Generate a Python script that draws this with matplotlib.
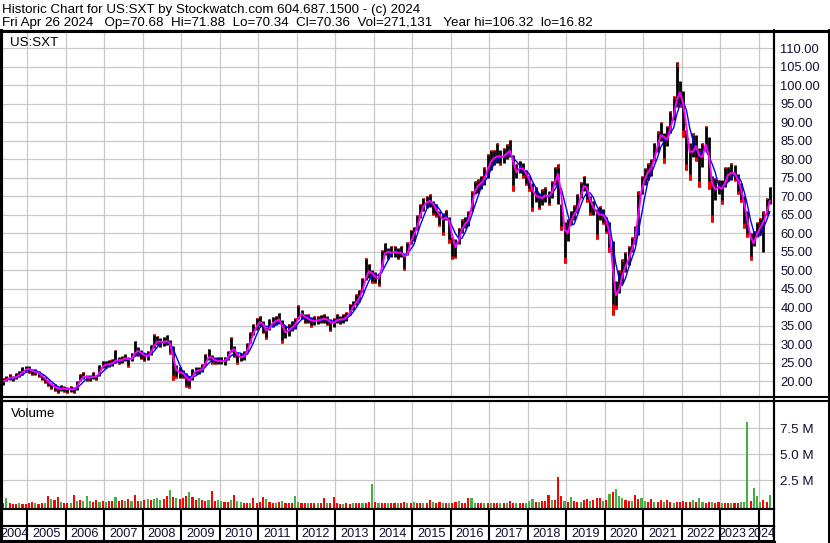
import numpy as np
import pandas as pd
import matplotlib
matplotlib.use("Agg")
import matplotlib.pyplot as plt
from matplotlib.lines import Line2D
from matplotlib.ticker import FormatStrFormatter, FuncFormatter

W, H = 830, 543
plt.rcParams['font.family'] = ['Liberation Sans', 'DejaVu Sans']

# monthly bars, May 2004 .. Apr 2024
closes = [
    20.0, 20.8, 21.2, 20.8, 21.5, 22.0, 22.8, 23.5,                      # 2004
    23.3, 22.5, 22.6, 22.0, 21.2, 20.5, 19.5, 18.8, 18.4, 17.8, 18.2, 18.0,  # 2005
    17.8, 18.0, 17.6, 19.5, 21.0, 21.5, 21.0, 21.0, 21.5, 21.0, 23.5, 24.5,  # 2006
    24.5, 24.8, 25.0, 26.0, 25.5, 26.0, 26.5, 25.5, 26.5, 28.5, 28.0, 27.5,  # 2007
    26.5, 27.0, 28.5, 30.5, 31.0, 30.5, 30.8, 31.0, 29.5, 23.5, 22.5, 22.5,  # 2008
    22.0, 20.5, 20.0, 22.5, 23.0, 23.0, 23.5, 26.0, 27.0, 26.0, 25.5, 25.5,  # 2009
    25.5, 25.5, 27.0, 29.5, 28.0, 26.5, 26.5, 27.0, 29.0, 32.0, 34.0, 35.5,  # 2010
    36.5, 34.5, 33.0, 35.5, 36.0, 36.5, 37.0, 33.0, 33.5, 34.0, 35.0, 35.5,  # 2011
    38.5, 38.0, 37.0, 37.0, 36.0, 36.5, 36.5, 36.8, 37.0, 36.5, 35.5, 36.0,  # 2012
    37.0, 36.5, 37.0, 37.5, 39.5, 40.5, 42.0, 43.0, 46.0, 49.5, 50.0, 48.5,  # 2013
    48.0, 47.5, 53.5, 55.5, 54.5, 55.0, 55.0, 54.5, 55.0, 52.5, 56.0, 59.0,  # 2014
    60.0, 63.0, 66.5, 68.0, 68.5, 69.0, 67.0, 66.0, 64.0, 63.5, 65.0, 62.0,  # 2015
    56.5, 56.0, 60.0, 62.0, 63.0, 64.0, 70.0, 72.5, 73.0, 74.0, 75.5, 78.5,  # 2016
    80.0, 80.5, 81.0, 80.5, 81.0, 82.0, 82.5, 76.0, 77.0, 78.0, 77.0, 75.5,  # 2017
    73.5, 70.0, 70.5, 69.0, 70.0, 70.5, 69.5, 72.0, 75.5, 76.5, 64.0, 58.0,  # 2018
    62.0, 64.5, 65.5, 67.5, 72.0, 73.5, 71.0, 67.0, 67.0, 64.5, 65.5, 64.5,  # 2019
    62.5, 58.0, 44.0, 42.5, 47.0, 50.0, 52.0, 54.0, 57.0, 60.0, 70.0, 73.0,  # 2020
    76.0, 77.0, 78.0, 82.0, 85.0, 88.0, 84.0, 86.5, 90.0, 93.0, 99.0, 97.0,  # 2021
    93.0, 84.0, 80.0, 84.0, 83.0, 79.0, 82.0, 86.0, 76.0, 71.0, 72.5, 72.5,  # 2022
    71.5, 75.5, 76.0, 76.5, 76.0, 73.0, 71.0, 65.0, 62.0, 56.0, 58.5, 61.0,  # 2023
    62.0, 64.0, 67.0, 70.36,                                              # 2024
]
lows = [
    19.0, 20.0, 20.4, 20.0, 20.7, 21.2, 21.8, 22.6,
    22.4, 21.8, 21.8, 21.2, 20.4, 19.6, 18.8, 18.0, 17.5, 16.8, 17.3, 17.2,
    17.0, 17.2, 16.9, 17.8, 20.0, 20.6, 20.2, 20.2, 20.6, 20.3, 21.5, 23.5,
    23.6, 23.9, 24.1, 25.0, 24.6, 25.1, 25.5, 24.0, 25.4, 27.2, 26.8, 26.0,
    25.4, 25.8, 27.2, 29.0, 29.8, 29.3, 29.5, 29.8, 27.5, 20.5, 20.8, 21.0,
    20.8, 18.5, 18.2, 20.5, 22.0, 22.0, 22.5, 24.5, 25.8, 24.8, 24.6, 24.6,
    24.6, 24.5, 25.8, 28.0, 26.5, 24.8, 25.4, 25.8, 27.8, 30.5, 32.6, 34.0,
    35.0, 33.0, 31.5, 34.0, 34.8, 35.2, 35.6, 30.4, 31.8, 32.4, 33.6, 34.2,
    36.8, 36.8, 35.8, 35.8, 34.8, 35.3, 35.4, 35.7, 35.9, 35.2, 33.5, 34.8,
    35.8, 35.4, 35.9, 36.3, 38.0, 39.2, 40.6, 41.5, 44.2, 47.5, 48.0, 46.5,
    46.5, 45.8, 51.0, 54.0, 53.0, 53.5, 53.5, 53.0, 53.5, 50.0, 54.0, 57.0,
    58.0, 61.0, 64.0, 66.0, 66.8, 67.0, 65.0, 64.5, 62.0, 59.5, 63.5, 57.5,
    53.0, 53.2, 57.0, 60.0, 61.5, 62.0, 66.0, 70.5, 71.0, 72.0, 73.0, 75.0,
    77.0, 78.5, 79.0, 78.5, 79.0, 80.0, 80.5, 71.5, 74.8, 76.2, 75.0, 73.0,
    71.5, 66.0, 68.5, 66.5, 67.5, 68.5, 67.5, 69.5, 73.0, 68.0, 61.0, 52.0,
    58.0, 62.5, 63.5, 65.5, 69.5, 71.5, 68.5, 65.0, 65.0, 58.5, 63.5, 62.5,
    60.0, 55.0, 38.0, 39.5, 44.0, 46.5, 49.5, 51.5, 55.0, 57.0, 59.5, 70.5,
    73.0, 74.5, 75.5, 79.5, 82.0, 85.0, 79.0, 83.5, 87.0, 90.5, 94.0, 94.0,
    86.0, 77.0, 74.5, 80.5, 79.5, 72.6, 78.0, 82.5, 72.0, 63.0, 69.0, 70.5,
    68.0, 72.5, 74.0, 74.5, 74.0, 70.5, 68.5, 61.5, 59.0, 52.7, 56.5, 59.0,
    59.5, 55.0, 65.0, 68.0,
]
highs = [
    21.0, 21.6, 22.0, 21.6, 22.3, 22.8, 23.8, 24.3,
    24.2, 23.4, 23.4, 22.8, 22.0, 21.3, 20.4, 19.6, 19.2, 18.6, 19.0, 18.8,
    18.6, 18.8, 18.4, 20.2, 21.9, 22.6, 21.8, 21.8, 22.6, 21.8, 24.5, 25.4,
    25.4, 25.7, 26.0, 28.5, 26.5, 27.0, 27.5, 26.6, 27.6, 31.0, 29.2, 28.6,
    27.6, 28.2, 29.8, 32.8, 32.2, 31.7, 32.0, 32.5, 31.2, 29.5, 24.5, 24.0,
    23.2, 22.2, 21.5, 23.4, 24.0, 24.0, 24.6, 27.5, 28.8, 27.2, 26.5, 26.5,
    26.5, 26.5, 28.2, 32.0, 29.6, 27.8, 27.6, 28.2, 30.4, 33.4, 35.4, 37.2,
    37.6, 36.2, 34.6, 36.8, 37.4, 37.8, 38.6, 36.5, 35.0, 35.6, 36.4, 37.0,
    40.6, 39.4, 38.3, 38.3, 37.3, 37.6, 37.6, 38.0, 38.2, 37.6, 36.8, 37.2,
    38.2, 37.6, 38.2, 38.8, 41.0, 41.8, 43.5, 44.8, 48.0, 53.3, 51.8, 50.0,
    49.6, 49.4, 55.5, 57.5, 56.0, 56.5, 56.6, 56.0, 56.6, 54.5, 57.6, 61.0,
    61.8, 64.8, 68.0, 69.6, 70.0, 70.5, 68.6, 68.0, 66.0, 65.5, 66.3, 64.5,
    59.0, 58.5, 61.5, 63.8, 64.5, 66.0, 71.5, 74.0, 74.6, 75.5, 78.0, 81.5,
    82.5, 82.5, 84.5, 82.5, 83.0, 84.0, 85.3, 81.0, 78.8, 79.5, 79.0, 77.0,
    75.5, 73.5, 72.5, 71.0, 72.0, 72.5, 71.5, 74.0, 78.0, 78.7, 68.0, 63.0,
    63.8, 66.0, 67.5, 70.5, 73.8, 75.5, 73.5, 70.0, 68.8, 66.5, 67.3, 66.5,
    64.5, 63.0, 58.0, 47.0, 50.0, 53.0, 55.0, 56.5, 59.0, 62.0, 71.5, 75.5,
    77.5, 79.0, 80.0, 84.5, 87.5, 90.0, 87.0, 89.0, 93.0, 97.0, 106.3, 101.0,
    98.5, 88.0, 84.5, 87.0, 86.5, 83.0, 84.5, 89.0, 86.0, 75.5, 75.0, 74.5,
    74.5, 78.0, 78.0, 79.0, 78.5, 76.0, 73.5, 70.0, 66.0, 60.0, 60.5, 63.0,
    64.0, 66.0, 69.5, 72.6,
]
# volume in millions of shares
volumes = [
    0.3, 0.8, 0.3, 0.2, 0.2, 0.3, 0.2, 0.25,
    0.3, 0.4, 0.3, 0.25, 0.3, 0.35, 1.0, 0.75, 0.6, 0.95, 0.4, 0.3,
    0.3, 0.35, 1.1, 0.5, 0.6, 0.5, 1.05, 0.5, 0.4, 0.6, 0.4, 0.5,
    0.4, 0.5, 0.5, 0.87, 0.5, 0.6, 0.5, 0.7, 0.5, 1.06, 0.5, 0.5,
    0.6, 0.7, 0.6, 0.7, 0.8, 0.6, 0.7, 1.0, 1.57, 0.9, 0.8, 0.7,
    0.8, 1.0, 1.4, 0.9, 0.6, 0.8, 0.6, 0.5, 0.6, 1.47, 0.5, 0.6,
    0.5, 0.4, 0.4, 0.6, 1.06, 0.5, 0.4, 0.35, 0.3, 0.3, 0.8, 0.35,
    0.4, 0.9, 0.7, 0.4, 0.35, 0.3, 0.4, 0.5, 0.35, 0.3, 0.35, 0.96,
    0.4, 0.35, 0.3, 0.3, 0.3, 0.3, 0.35, 0.3, 0.8, 0.3, 0.35, 0.9,
    0.3, 0.25, 0.25, 0.3, 0.25, 0.3, 0.3, 0.35, 0.3, 0.35, 0.4, 2.14,
    0.4, 0.35, 0.3, 0.3, 0.35, 0.3, 0.3, 0.3, 0.35, 0.4, 0.35, 0.35,
    0.42, 0.3, 0.3, 0.35, 0.3, 0.64, 0.4, 0.35, 0.42, 0.3, 0.3, 0.35,
    0.35, 0.4, 0.55, 0.35, 0.3, 0.83, 0.83, 0.35, 0.3, 0.3, 0.35, 0.3,
    0.3, 0.3, 0.3, 0.3, 0.35, 0.3, 0.55, 0.35, 0.3, 0.3, 0.3, 0.35,
    0.5, 0.75, 0.45, 0.4, 0.5, 0.5, 1.12, 0.6, 0.65, 2.85, 1.0, 0.55,
    0.45, 0.93, 0.5, 0.4, 0.45, 0.6, 0.67, 0.5, 0.6, 0.83, 0.83, 0.5,
    0.6, 1.2, 1.4, 1.65, 1.0, 0.8, 0.6, 0.5, 0.5, 1.1, 0.7, 0.85,
    0.5, 0.45, 0.74, 0.4, 0.4, 0.64, 0.4, 0.6, 0.4, 0.35, 0.4, 0.45,
    0.55, 0.45, 0.45, 0.58, 0.45, 0.83, 0.4, 0.35, 0.4, 0.4, 0.35, 0.42,
    0.3, 0.3, 0.3, 0.3, 0.35, 0.3, 0.4, 0.45, 8.05, 0.5, 1.73, 1.0,
    0.4, 0.64, 0.4, 1.1,
]
vol_colors = (
    "rgrrrgrr"
    "rrgrrgrgrrgr" "rgrgrgggrrgr" "grrgrrgrgrrg" "rgrgggrrgrgr" "rrgrrgrrgrrg"
    "grrgrggrrgrr" "rrgrrgrgrrrg" "grrgrrgrrgrr" "rrgrrgrrgrrg" "rgrrgrrgrrgr"
    "grrgrrgrrgrg" "rrgrrrggrrgr" "grrgrgrrgrrg" "ggrgrrrgrrrg" "rgrrgrrgrrrg"
    "rgrgggrrgrrg" "grrgrrgrrgrr" "rrrgrggrrgrr" "grrgrrgggrgg"
    "grrg"
)
year_labels = [str(y) for y in range(2004, 2025)]
header_1 = "Historic Chart for US:SXT by Stockwatch.com 604.687.1500 - (c) 2024"
header_2 = ("Fri Apr 26 2024   Op=70.68  Hi=71.88  Lo=70.34  Cl=70.36  "
            "Vol=271,131   Year hi=106.32  lo=16.82")

months = pd.date_range("2004-05-01", periods=len(closes), freq="MS")
df = pd.DataFrame({"close": closes, "low": lows, "high": highs, "vol": volumes,
                   "vcol": list(vol_colors)}, index=months)
df["t"] = df.index.year + (df.index.month - 0.5) / 12.0
df["ma_fast"] = df["close"].rolling(2, min_periods=1).mean()
df["ma_slow"] = df["close"].rolling(4, min_periods=1).mean()
down = df["close"] < df["close"].shift(1)
up = ~down

X0, X1 = 2004.343, 2024.387
GRID = "#c8c8c8"
LW_BORDER = 1.5
TXT = "#101030"


def box(left, top, right, bottom):
    return [left / W, 1 - bottom / H, (right - left) / W, (bottom - top) / H]


def style(ax):
    for s in ax.spines.values():
        s.set_color("black")
        s.set_linewidth(LW_BORDER)
    ax.set_xlim(X0, X1)


fig = plt.figure(figsize=(W / 100, H / 100), dpi=100)
fig.patch.set_facecolor("white")

# price panel
ax = fig.add_axes(box(2, 31, 773.5, 397))
style(ax)
ax.set_ylim(15.8, 114.6)
ax.set_xticks(range(2005, 2025))
ax.set_yticks(np.arange(20, 111, 5))
ax.yaxis.tick_right()
ax.yaxis.set_major_formatter(FormatStrFormatter("%.2f"))
ax.tick_params(axis="x", length=0, labelbottom=False)
ax.tick_params(axis="y", length=0, pad=5, labelsize=9.3, labelcolor=TXT)
ax.grid(True, color=GRID, lw=0.9)
ax.set_axisbelow(True)

ax.vlines(df["t"], df["low"], df["high"], color="black", lw=2.0, zorder=2)
tip = (df["high"] - df["low"]) * 0.15
ax.vlines(df["t"][down], df["low"][down], (df["low"] + tip)[down],
          color="#ff0000", lw=2.0, zorder=3)
ax.vlines(df["t"][up] + 0.02, (df["high"] - tip * 0.7)[up], df["high"][up],
          color="#ff0000", lw=1.2, zorder=3)
ax.plot(df["t"], df["ma_slow"], color="#0000ff", lw=1.0, zorder=4)
ax.plot(df["t"], df["ma_fast"], color="#ff00ff", lw=1.4, zorder=5)
ax.text(8 / 771.5, 1 - (46.5 - 31) / 366, "US:SXT", transform=ax.transAxes,
        fontsize=9.6, va="baseline", ha="left")

# volume panel
vax = fig.add_axes(box(2, 401, 773.5, 509))
style(vax)
vb = -0.24
vax.set_ylim(vb, 10.1)
vax.set_xticks(range(2005, 2025))
vax.set_yticks([2.5, 5.0, 7.5])
vax.yaxis.tick_right()
vax.yaxis.set_major_formatter(FuncFormatter(lambda v, p: f"{v:.1f} M"))
vax.tick_params(axis="x", length=0, labelbottom=False)
vax.tick_params(axis="y", length=0, pad=5, labelsize=9.6, labelcolor=TXT)
vax.grid(True, color=GRID, lw=0.9)
vax.set_axisbelow(True)
cmap = {"g": "#44b044", "r": "#ff0000"}
vax.bar(df["t"], df["vol"] - vb, bottom=vb, width=0.055,
        color=[cmap[c] for c in df["vcol"]], zorder=2)
vax.text(9 / 771.5, 1 - (417 - 401) / 108, "Volume", transform=vax.transAxes,
         fontsize=9.6, va="baseline", ha="left")

# empty row and year label row
rax = fig.add_axes(box(2, 509, 773.5, 526))
lax = fig.add_axes(box(2, 526, 773.5, 541))
for a in (rax, lax):
    style(a)
    a.set_ylim(0, 1)
    a.set_xticks([])
    a.set_yticks([])
    for y in range(2005, 2025):
        a.axvline(y, color="black", lw=LW_BORDER)
edges = [X0] + list(range(2005, 2025)) + [X1]
n = len(year_labels)
for i, lab in enumerate(year_labels):
    if i == n - 1:
        # squeezed into the short last span, as in the original
        lax.text(X1 + 0.04, 0.45, lab, ha="right", va="center", fontsize=9.0,
                 color=TXT, clip_on=False)
    elif i == n - 2:
        lax.text(2023.68, 0.45, lab, ha="right", va="center", fontsize=9.0,
                 color=TXT, clip_on=False)
    else:
        mid = (edges[i] + edges[i + 1]) / 2
        lax.text(mid, 0.45, lab, ha="center", va="center", fontsize=9.2,
                 color=TXT, clip_on=True)

# header
fig.text(2 / W, 1 - 12.5 / H, header_1, fontsize=9.65, va="baseline", ha="left")
fig.text(2 / W, 1 - 26 / H, header_2, fontsize=9.65, va="baseline", ha="left")


def hline(y, x0=0, x1=W, lw=LW_BORDER):
    fig.add_artist(Line2D([x0 / W, x1 / W], [1 - y / H, 1 - y / H],
                          color="black", lw=lw))


def vline(x, y0, y1, lw=LW_BORDER):
    fig.add_artist(Line2D([x / W, x / W], [1 - y0 / H, 1 - y1 / H],
                          color="black", lw=lw))


hline(30.5, lw=2.2)
hline(397)
hline(400.5)
hline(541.5, x1=775)
vline(1, 30, 543, lw=2.2)
vline(828.5, 30, 543, lw=2.2)
vline(773.5, 30, 542)

fig.savefig("out.png", dpi=100)
